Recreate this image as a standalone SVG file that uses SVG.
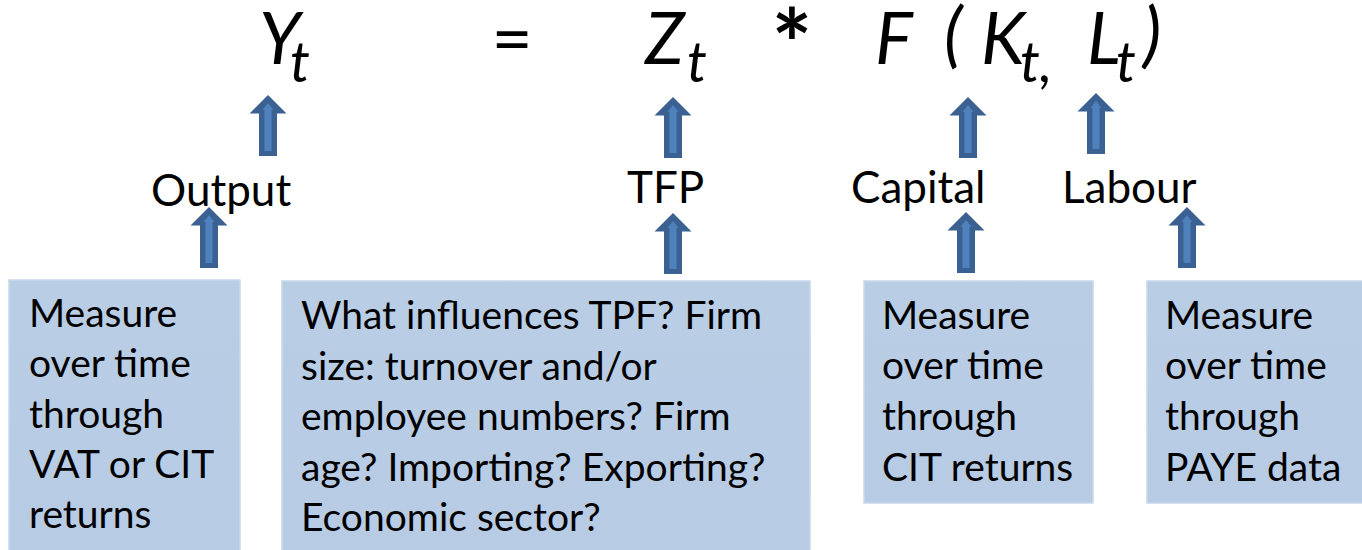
<svg xmlns="http://www.w3.org/2000/svg" width="1362" height="550" viewBox="0 0 1362 550">
  <defs>
    <linearGradient id="boxFill" x1="0" y1="0" x2="0" y2="1">
      <stop offset="0" stop-color="#b9cde5"/>
      <stop offset="1" stop-color="#b7cbe4"/>
    </linearGradient>
    <!-- block up-arrow: dark outline shape with a lighter core -->
    <g id="upArrow">
      <path d="M0,0 L18.5,18.5 L9,18.5 L9,61 L-9,61 L-9,18.5 L-18.5,18.5 Z" fill="#3a6191"/>
      <path d="M0,8 L5.5,15 L3.5,15 L3.5,56 L-3.5,56 L-3.5,15 L-5.5,15 Z" fill="#4f81bd"/>
    </g>
  </defs>
  <style>
    .eq { font-family: "Lato", "Liberation Sans", sans-serif; font-style: italic; fill: #000; }
    .big { font-size: 71px; }
    .sub { font-size: 56px; }
    .lbl { font-family: "Lato", "Liberation Sans", sans-serif; font-size: 44px; fill: #000; }
    .body { font-family: "Lato", "Liberation Sans", sans-serif; font-size: 39px; fill: #000; }
    .box { fill: url(#boxFill); stroke: #c9d8ec; stroke-width: 1.5; }
  </style>
  <rect width="1362" height="550" fill="#ffffff"/>

  <!-- production function -->
  <g id="equation">
    <text class="eq big" x="259" y="64">Y</text>
    <text class="eq sub" x="290" y="82">t</text>
    <text class="eq big" x="512" y="64" text-anchor="middle" style="font-style:normal">=</text>
    <text class="eq big" x="645" y="64">Z</text>
    <text class="eq sub" x="687" y="82">t</text>
    <text class="eq" x="792" y="79" text-anchor="middle" style="font-style:normal;font-size:96px;font-weight:bold">*</text>
    <text class="eq big" x="875" y="64">F</text>
    <text class="eq big" x="944" y="59">(</text>
    <text class="eq big" x="981" y="64">K</text>
    <text class="eq sub" x="1020" y="82">t,</text>
    <text class="eq big" x="1087" y="64">L</text>
    <text class="eq sub" x="1116" y="82">t</text>
    <text class="eq big" x="1143" y="59">)</text>
  </g>

  <!-- arrows linking terms, labels and data sources -->
  <g id="connectors">
    <use href="#upArrow" x="268" y="95"/>
    <use href="#upArrow" x="209" y="207"/>
    <use href="#upArrow" x="673" y="97"/>
    <use href="#upArrow" x="673" y="213"/>
    <use href="#upArrow" x="968" y="97"/>
    <use href="#upArrow" x="966" y="212"/>
    <use href="#upArrow" x="1096" y="93"/>
    <use href="#upArrow" x="1187" y="207"/>
  </g>

  <g id="label-output"><text class="lbl" x="151" y="206">Output</text></g>
  <g id="label-tfp"><text class="lbl" x="627" y="203">TFP</text></g>
  <g id="label-capital"><text class="lbl" x="851" y="203">Capital</text></g>
  <g id="label-labour"><text class="lbl" x="1062" y="203">Labour</text></g>

  <g id="box-output">
    <rect class="box" x="9" y="280" width="231" height="275"/>
    <text class="body" x="29" y="327">Measure</text>
    <text class="body" x="29" y="377">over time</text>
    <text class="body" x="29" y="428">through</text>
    <text class="body" x="29" y="478">VAT or CIT</text>
    <text class="body" x="29" y="528">returns</text>
  </g>

  <g id="box-tfp">
    <rect class="box" x="282" y="281" width="528" height="275"/>
    <text class="body" x="301" y="329">What influences TPF? Firm</text>
    <text class="body" x="301" y="380">size: turnover and/or</text>
    <text class="body" x="301" y="430">employee numbers? Firm</text>
    <text class="body" x="301" y="481">age? Importing? Exporting?</text>
    <text class="body" x="301" y="531">Economic sector?</text>
  </g>

  <g id="box-capital">
    <rect class="box" x="864" y="281" width="229" height="222"/>
    <text class="body" x="882" y="329">Measure</text>
    <text class="body" x="882" y="379">over time</text>
    <text class="body" x="882" y="430">through</text>
    <text class="body" x="882" y="481">CIT returns</text>
  </g>

  <g id="box-labour">
    <rect class="box" x="1147" y="281" width="230" height="222"/>
    <text class="body" x="1165" y="329">Measure</text>
    <text class="body" x="1165" y="379">over time</text>
    <text class="body" x="1165" y="430">through</text>
    <text class="body" x="1165" y="481">PAYE data</text>
  </g>
</svg>
